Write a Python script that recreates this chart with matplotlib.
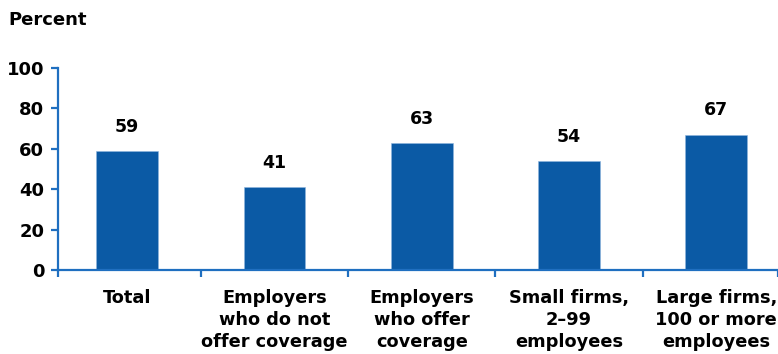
import matplotlib
matplotlib.use("Agg")
from matplotlib import pyplot as plt

# share of employers, by group (percent)
categories = ["Total",
              "Employers\nwho do not\noffer coverage",
              "Employers\nwho offer\ncoverage",
              "Small firms,\n2\u201399\nemployees",
              "Large firms,\n100 or more\nemployees"]
values = [59, 41, 63, 54, 67]
yticks = [0, 20, 40, 60, 80, 100]

bar_color = "#0b5aa5"
axis_color = "#1f6fc0"

plt.rcParams["font.family"] = ["DejaVu Sans"]
plt.rcParams["font.weight"] = "bold"

fig = plt.figure(figsize=(7.78, 3.54), dpi=100)
ax = fig.add_axes([0.0746, 0.2373, 0.9254, 0.5707])

x = list(range(len(values)))
ax.bar(x, values, width=0.42, color=bar_color, edgecolor="#8fb6df", linewidth=0.4, zorder=2)

for xi, v in zip(x, values):
    ax.text(xi, v + 7.5, str(v), ha="center", va="bottom", fontsize=12.5, fontweight="bold")

ax.set_xlim(-0.47, 4.42)
ax.set_ylim(0, 100)

for side in ("top", "right"):
    ax.spines[side].set_visible(False)
for side in ("left", "bottom"):
    ax.spines[side].set_color(axis_color)
    ax.spines[side].set_linewidth(1.6)

ax.set_yticks(yticks)
ax.set_yticklabels([str(t) for t in yticks], fontsize=13, fontweight="bold")
ax.tick_params(axis="y", colors=axis_color, labelcolor="black", length=5, width=1.6, pad=5)

# boundaries between groups
ax.set_xticks([-0.47, 0.5, 1.5, 2.5, 3.5, 4.42])
ax.set_xticklabels([])
ax.tick_params(axis="x", colors=axis_color, length=5, width=1.6)

for xi, name in zip(x, categories):
    ax.text(xi, -9.5, name, ha="center", va="top", fontsize=12.8, fontweight="bold",
            linespacing=1.28, transform=ax.transData, clip_on=False)

fig.text(8 / 778, 1 - 20 / 354, "Percent", ha="left", va="center", fontsize=13, fontweight="bold")

fig.savefig("out.png", dpi=100)
